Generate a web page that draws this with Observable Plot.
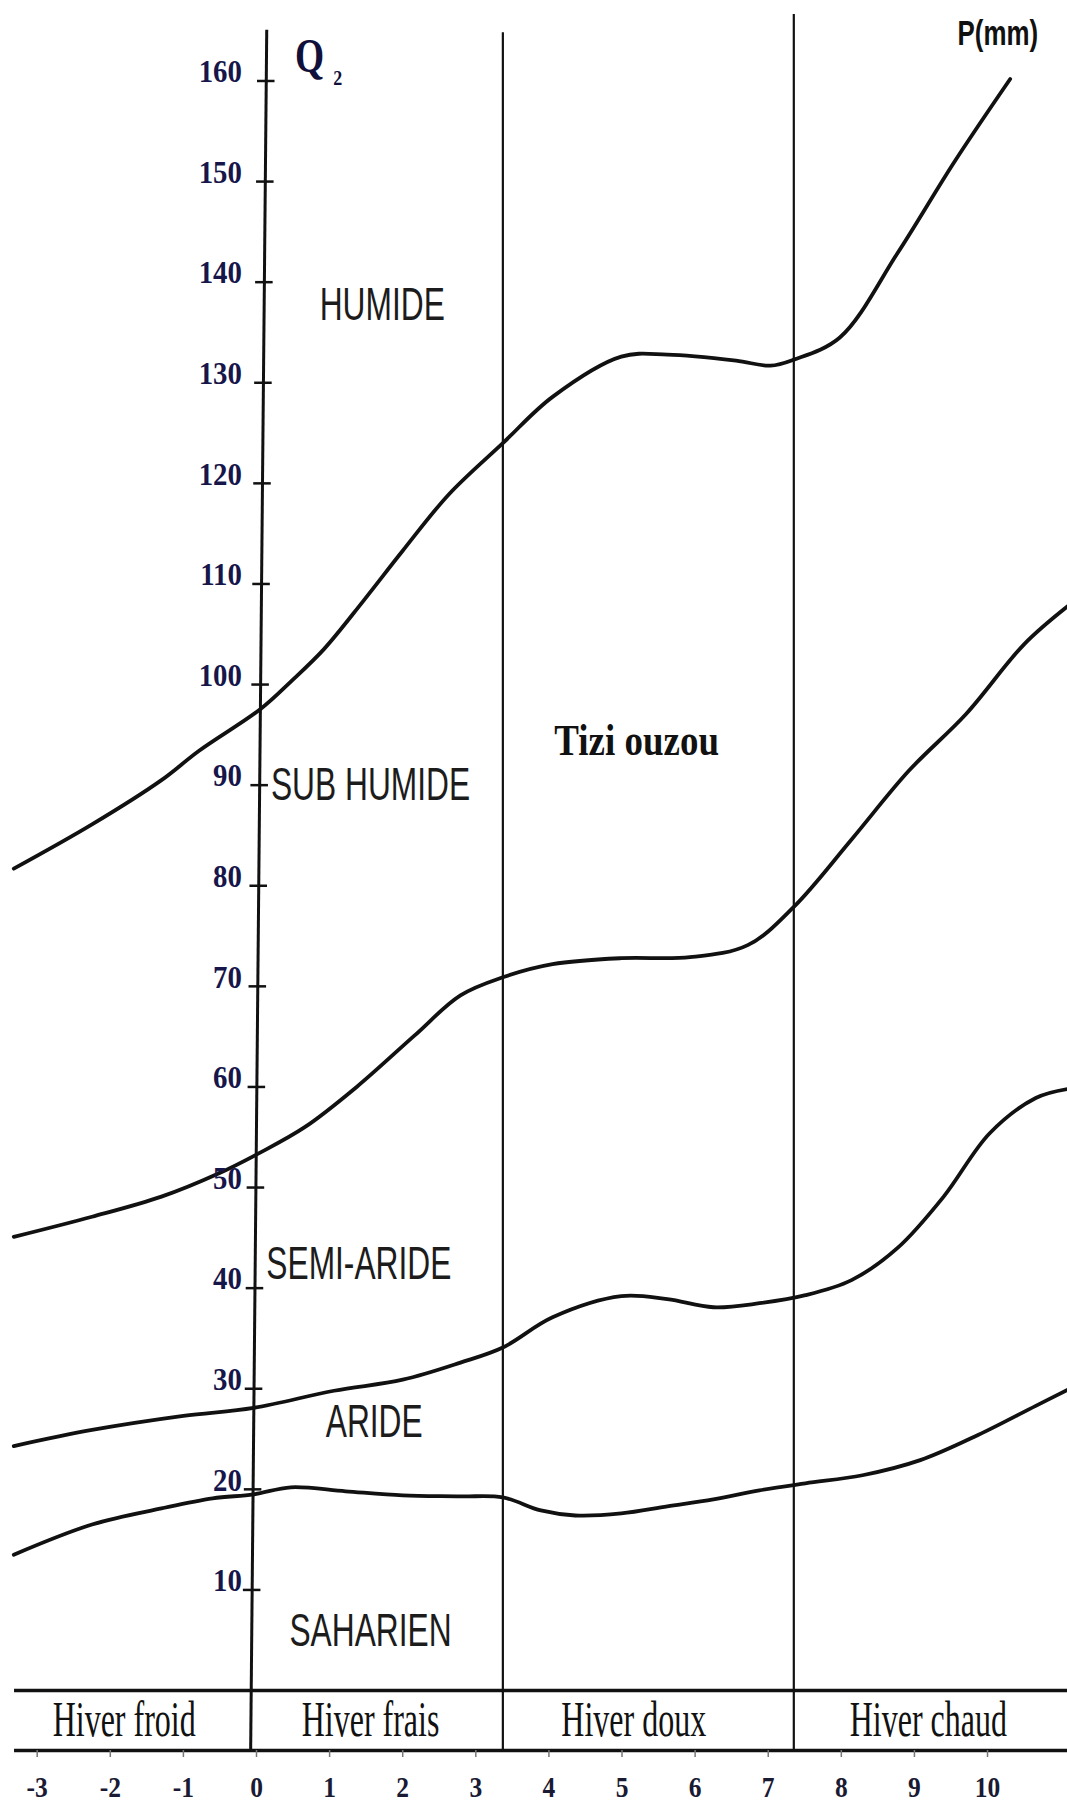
<!DOCTYPE html>
<html>
<head>
<meta charset="utf-8">
<script src="https://cdn.jsdelivr.net/npm/d3@7"></script>
<script src="https://cdn.jsdelivr.net/npm/@observablehq/plot@0.6"></script>
<style>
  html, body { margin: 0; padding: 0; background: #fff; overflow: hidden; }
</style>
</head>
<body>
<div id="chart"></div>
<script>
// ---- Data ----
// x: m (°C, minimum temperature of the coldest month), y: Q2 (Emberger quotient)
const mTicks = [-3, -2, -1, 0, 1, 2, 3, 4, 5, 6, 7, 8, 9, 10];
const qTicks = [10, 20, 30, 40, 50, 60, 70, 80, 90, 100, 110, 120, 130, 140, 150, 160];

// Boundary curves [m, Q2]
const humideSubhumide = [
  [-3.32, 81.7], [-2.25, 86.1], [-1.30, 90.5], [-0.79, 93.4], [0.06, 97.6], [0.47, 100.3],
  [0.92, 103.5], [1.46, 108.3], [2.00, 113.3], [2.63, 118.9], [3.37, 124.0], [4.05, 128.6],
  [4.99, 132.6], [5.62, 132.8], [6.56, 132.2], [7.03, 131.7], [7.35, 132.3], [7.98, 134.5],
  [8.77, 142.9], [9.55, 152.0], [10.31, 160.2]
];
const subhumideSemiaride = [
  [-3.32, 45.1], [-2.25, 47.1], [-1.30, 49.1], [-0.52, 51.4], [0.03, 53.4], [0.66, 56.0],
  [1.37, 60.0], [2.16, 65.1], [2.79, 69.1], [3.37, 70.9], [4.05, 72.2], [4.99, 72.8],
  [5.93, 72.9], [6.72, 74.1], [7.35, 77.9], [8.14, 84.6], [8.92, 91.4], [9.71, 97.1],
  [10.50, 104.0], [11.10, 107.8]
];
const semiaridAride = [
  [-3.32, 24.3], [-2.25, 25.9], [-1.00, 27.3], [-0.04, 28.1], [1.06, 29.8],
  [2.00, 30.9], [2.79, 32.6], [3.37, 34.1], [4.05, 37.1], [4.99, 39.2], [5.62, 38.9],
  [6.25, 38.1], [6.88, 38.5], [7.51, 39.3], [8.14, 40.8], [8.77, 44.0], [9.40, 49.1],
  [10.03, 55.4], [10.66, 58.9], [11.10, 59.8]
];
const arideSaharien = [
  [-3.32, 13.5], [-2.25, 16.5], [-1.30, 18.1], [-0.60, 19.1], [-0.04, 19.5], [0.47, 20.2],
  [1.22, 19.8], [2.00, 19.4], [2.79, 19.3], [3.37, 19.2], [3.89, 17.9], [4.36, 17.4],
  [4.99, 17.6], [5.62, 18.3], [6.25, 19.0], [6.88, 19.9], [7.51, 20.6], [8.29, 21.4],
  [9.08, 22.9], [9.87, 25.4], [10.66, 28.3], [11.10, 29.9]
];

// Bioclimatic zone names and where they sit (m, Q2)
const zoneNames = ["HUMIDE", "SUB HUMIDE", "SEMI-ARIDE", "ARIDE", "SAHARIEN"];
const zoneM = [1.72, 1.56, 1.40, 1.61, 1.56];
const zoneQ = [137.7, 90.0, 42.4, 26.7, 5.9];

// Winter variants (band below the diagram)
const winterNames = ["Hiver froid", "Hiver frais", "Hiver doux", "Hiver chaud"];
const winterM = [-1.81, 1.56, 5.16, 9.19];

// Dividing lines between winter variants (m) and their top end (Q2)
const dividerM = [3.37, 7.35];
const dividerTop = [164.8, 166.6];

// Station
const stationName = "Tizi ouzou";
const stationM = 5.2, stationQ = 94.4;

// Frame values
const bandTop = 0, bandBottom = -5.96, bandLabelQ = -2.88, tickLabelQ = -9.6;
const curveStartM = -3.31, curveEndM = 11.2;
const axisTop = 165.1, axisTopM = 0.14, axisBottomM = -0.08;
const axisAt = q => axisBottomM + (q - bandBottom) * (axisTopM - axisBottomM) / (axisTop - bandBottom);

const W = 1067, H = 1803;
const ink = "#111";
const serif = "'Liberation Serif', 'Times New Roman', serif";
const sans = "'Liberation Sans', Arial, sans-serif";

const marks = [];
const squeeze = [];
function add(mark, s = 1) { marks.push(mark); squeeze.push(s); }

const curveList = [humideSubhumide, subhumideSemiaride, semiaridAride, arideSaharien];
for (const c of curveList) {
  add(Plot.line(c, {x: d => d[0], y: d => d[1], curve: "catmull-rom", stroke: ink, strokeWidth: 3.8}));
}

// band lines
add(Plot.ruleY([bandTop, bandBottom], {y: d => d, x1: curveStartM, x2: curveEndM, stroke: ink, strokeWidth: 3.5}));
// small ticks under the band
add(Plot.ruleX(mTicks, {x: d => d, y1: bandBottom, y2: bandBottom - 0.7, stroke: "#777", strokeWidth: 1.5}));
// dividers
add(Plot.ruleX(dividerM.map((m, i) => ({m, top: dividerTop[i]})), {x: "m", y1: bandBottom, y2: "top", stroke: ink, strokeWidth: 2.2}));
// Q2 axis (slightly leaning, as drawn)
add(Plot.link([{q1: bandBottom, q2: axisTop}], {x1: d => axisAt(d.q1), y1: "q1", x2: d => axisAt(d.q2), y2: "q2", stroke: ink, strokeWidth: 3}));
// axis ticks
add(Plot.ruleY(qTicks, {y: d => d, x1: d => axisAt(d) - 0.12, x2: d => axisAt(d) + 0.12, stroke: ink, strokeWidth: 2.5}));

// y tick labels
add(Plot.text(qTicks, {x: -0.2, y: d => d, text: d => String(d), textAnchor: "end", dy: -9,
  fontFamily: serif, fontWeight: "bold", fontSize: 32, fill: "#16164a"}), 0.9);
// x tick labels
add(Plot.text(mTicks, {x: d => d, y: tickLabelQ, text: d => String(d), fontFamily: serif, fontWeight: "bold",
  fontSize: 30, fill: "#1a1a33"}), 0.85);

// band labels
add(Plot.text(winterNames, {x: (d, i) => winterM[i], y: bandLabelQ, text: d => d, fontFamily: serif,
  fontSize: 50, fill: ink}), 0.64);

// zone labels
add(Plot.text(zoneNames, {x: (d, i) => zoneM[i], y: (d, i) => zoneQ[i], text: d => d, fontFamily: sans,
  fontSize: 46, fill: "#1c1c1c"}), 0.69);

// station
add(Plot.text([stationName], {x: stationM, y: stationQ, text: d => d, fontFamily: serif, fontWeight: "bold",
  fontSize: 44, fill: ink}), 0.84);

// axis titles
add(Plot.text(["Q"], {x: 0.725, y: 162.4, text: d => d, fontFamily: serif, fontWeight: "bold", fontSize: 48, fill: "#10103a"}), 0.78);
add(Plot.text(["2"], {x: 1.11, y: 160.2, text: d => d, fontFamily: serif, fontWeight: "bold", fontSize: 20, fill: "#10103a"}), 0.9);
add(Plot.text(["P(mm)"], {x: 10.14, y: 164.7, text: d => d, fontFamily: sans, fontWeight: "bold", fontSize: 35, fill: ink}), 0.74);

const chart = Plot.plot({
  width: W,
  height: H,
  margin: 0,
  x: {domain: [-3.502, 11.094], range: [0, W], axis: null},
  y: {domain: [-11.23, 168.0], range: [H, 0], axis: null},
  style: {background: "#fff", overflow: "visible"},
  marks
});

// condense the narrow typefaces of the original drawing horizontally (scale about each text's anchor)
const groups = Array.from(chart.querySelectorAll(":scope > g"));
groups.forEach((g, i) => {
  const s = squeeze[i];
  if (!s || s === 1) return;
  g.querySelectorAll("text").forEach(t => {
    const tr = t.getAttribute("transform") || "";
    t.setAttribute("transform", `${tr} scale(${s},1)`);
  });
});

document.getElementById("chart").appendChild(chart);
</script>
</body>
</html>
